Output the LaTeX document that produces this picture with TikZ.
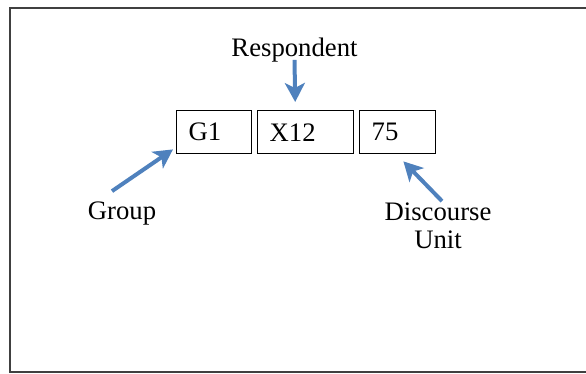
\documentclass[tikz,border=0pt]{standalone}
\usepackage{fontspec}
\setmainfont{Liberation Serif}
\newfontfamily\labelfont{Liberation Serif}
\usetikzlibrary{arrows.meta}
\definecolor{arrowblue}{HTML}{4F81BD}
\tikzset{
  cell/.style={draw=black, line width=1.4pt, inner xsep=12pt, inner ysep=0pt,
    minimum height=43pt, anchor=north west, font=\labelfont\fontsize{26.7}{32}\selectfont},
  lbl/.style={inner sep=0pt, anchor=base, font=\labelfont\fontsize{26.7}{32}\selectfont},
  pointer/.style={draw=arrowblue, line width=4pt,
    -{Stealth[length=19pt, width=20pt, inset=5pt]}}
}
\begin{document}
\begin{tikzpicture}[x=1pt, y=-1pt]
  \useasboundingbox (0,0) rectangle (586,374);
  % outer frame, right side runs past the page edge
  \draw[line width=2pt, draw=black!75] (10,8) rectangle (600,372);

  % code cells
  \node[cell] (g1)  at (176,110) {\makebox[51pt][l]{G1}};
  \node[cell] (x12) at (257,110) {\makebox[72pt][l]{X12}};
  \node[cell] (du)  at (359,110) {\makebox[52pt][l]{75}};

  % labels
  \node[lbl] (resp)  at (294.5,57) {Respondent};
  \node[lbl] (group) at (122,219) {Group};
  \node[lbl] (disc)  at (438,220) {Discourse};
  \node[lbl] (unit)  at (438,248) {Unit};

  % pointers from the labels to the cells
  \draw[pointer] ([yshift=3pt]resp.south) -- ([xshift=-10.5pt, yshift=8pt]x12.north);
  \draw[pointer] ([xshift=-10pt, yshift=10pt]group.north) -- ([xshift=-3pt, yshift=5pt]g1.south west);
  \draw[pointer] ([xshift=4pt, yshift=1pt]disc.north) -- ([xshift=-33pt, yshift=-7pt]du.south east);
\end{tikzpicture}
\end{document}
